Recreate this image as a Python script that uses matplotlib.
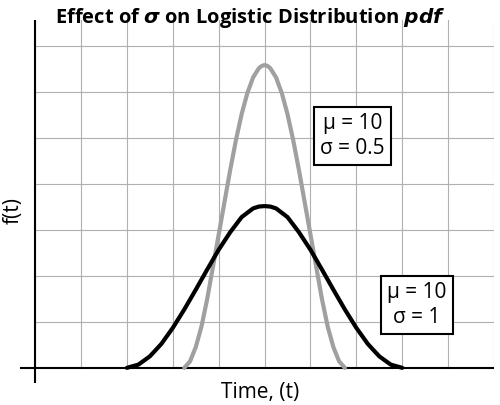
import matplotlib
matplotlib.use("Agg")
import matplotlib.pyplot as plt
import numpy as np

plt.rcParams['font.family'] = ['Open Sans', 'DejaVu Sans']
plt.rcParams['mathtext.fontset'] = 'dejavusans'

# Points (x offset from mu in time units, y in grid units)
black_off = [0, 0.125, 0.25, 0.5, 0.75, 1.0, 1.25, 1.5, 1.75, 2.0, 2.25, 2.5, 2.75, 3.0]
black_y   = [3.52, 3.51, 3.47, 3.28, 2.95, 2.57, 2.14, 1.7, 1.27, 0.87, 0.52, 0.25, 0.07, 0.0]
grey_off  = [0, 0.0625, 0.125, 0.25, 0.375, 0.5, 0.625, 0.75, 0.875, 1.0, 1.125, 1.25, 1.375, 1.5, 1.625, 1.75]
grey_y    = [6.59, 6.57, 6.52, 6.32, 5.98, 5.52, 4.95, 4.3, 3.6, 2.9, 2.2, 1.5, 0.9, 0.45, 0.14, 0.0]
mu = 10

def sym(off, y):
    off = np.array(off); y = np.array(y)
    x = np.concatenate([mu - off[::-1], mu + off[1:]])
    yy = np.concatenate([y[::-1], y[1:]])
    return x, yy

fig = plt.figure(figsize=(5, 4.05), dpi=100)
ax = fig.add_axes([20/500, 22/405, 474/500, 363/405])
ax.set_xlim(4.67, 15.0)
ax.set_ylim(-0.33, 7.57)
for xv in np.arange(5, 16):
    ax.plot([xv, xv], [0, 7.57], color='#b0b0b0', lw=0.8, zorder=0)
for yv in np.arange(1, 8):
    ax.plot([5, 15], [yv, yv], color='#b0b0b0', lw=0.8, zorder=0)
ax.axvline(5, color='black', lw=1.5)
ax.axhline(0, color='black', lw=1.5)
for s in ax.spines.values():
    s.set_visible(False)
ax.set_xticks([]); ax.set_yticks([])

xb, yb = sym(black_off, black_y)
xg, yg = sym(grey_off, grey_y)
ax.plot(xg, yg, color='#a0a0a0', lw=3, solid_capstyle='round', solid_joinstyle='round')
ax.plot(xb, yb, color='black', lw=3, solid_capstyle='round', solid_joinstyle='round')

bbox = dict(boxstyle='square,pad=0.3', fc='white', ec='black', lw=1.5)
ax.text(11.91, 5.05, 'μ = 10\nσ = 0.5', ha='center', va='center', fontsize=15, bbox=bbox, linespacing=1.25)
ax.text(13.32, 1.37, 'μ = 10\nσ = 1', ha='center', va='center', fontsize=15, bbox=bbox, linespacing=1.25)

fig.text(0.5, 0.955, r'Effect of $\mathbfit{\sigma}$ on Logistic Distribution $\mathbfit{pdf}$',
         ha='center', va='center', fontsize=14.5, fontweight='bold')
fig.text(0.52, 0.032, 'Time, (t)', ha='center', va='center', fontsize=15)
fig.text(0.026, 0.48, 'f(t)', ha='center', va='center', fontsize=15, rotation=90)
fig.savefig('out.png', dpi=100)
